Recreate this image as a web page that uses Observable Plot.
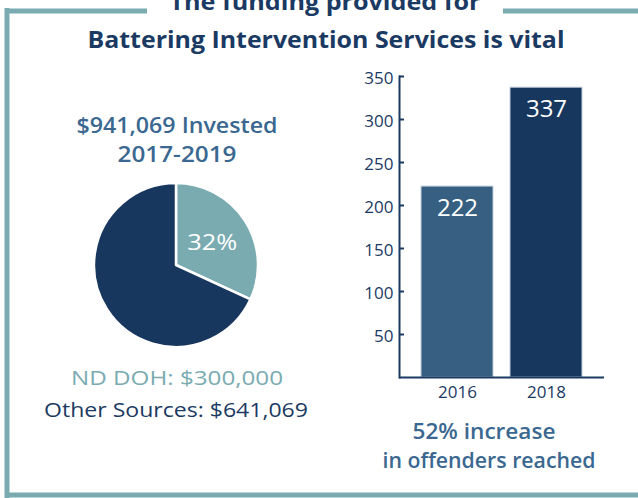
<!DOCTYPE html>
<html>
<head>
<meta charset="utf-8">
<script src="https://cdn.jsdelivr.net/npm/d3@7"></script>
<script src="https://cdn.jsdelivr.net/npm/@observablehq/plot@0.6"></script>
<style>
  html, body { margin: 0; padding: 0; background: #fff; }
  #root { position: relative; width: 638px; height: 498px; overflow: hidden; font-family: "Open Sans", Lato, sans-serif; }
  #overlay, #pie, #bars { position: absolute; }
  #overlay { left: 0; top: 0; }
  #pie { left: 76px; top: 165px; }
  #bars { left: 340px; top: 60px; }
</style>
</head>
<body>
<div id="root">
  <svg id="overlay" width="638" height="498"></svg>
  <div id="pie"></div>
  <div id="bars"></div>
</div>
<script>
// ---- data ----
const titleLines = ["The funding provided for", "Battering Intervention Services is vital"];
const pieCategories = ["ND DOH", "Other Sources"];
const pieValues = [300000, 641069];
const pieColors = ["#79abb1", "#17375f"];
const pieLabel = "32%";
const investedLines = ["$941,069 Invested", "2017-2019"];
const legendLines = ["ND DOH: $300,000", "Other Sources: $641,069"];
const barYears = ["2016", "2018"];
const barValues = [222, 337];
const barColors = ["#365f81", "#17375f"];
const yTicks = [50, 100, 150, 200, 250, 300, 350];
const noteLines = ["52% increase", "in offenders reached"];

const navy = "#1b3a63";
const steel = "#3a6890";
const teal = "#79abb1";
const FONT = "'Open Sans', Lato, sans-serif";

// ---- frame + text overlay ----
const ov = d3.select("#overlay");
const frameColor = "#7aabb1";
ov.append("line").attr("x1", 7).attr("x2", 7).attr("y1", 8).attr("y2", 498).attr("stroke", frameColor).attr("stroke-width", 5);
ov.append("line").attr("x1", 5).attr("x2", 147).attr("y1", 11).attr("y2", 11).attr("stroke", frameColor).attr("stroke-width", 5);
ov.append("line").attr("x1", 503).attr("x2", 638).attr("y1", 11).attr("y2", 11).attr("stroke", frameColor).attr("stroke-width", 5);
ov.append("line").attr("x1", 5).attr("x2", 638).attr("y1", 495).attr("y2", 495).attr("stroke", frameColor).attr("stroke-width", 5);

function txt(s, x, y, size, weight, color, len) {
  const t = ov.append("text").attr("x", x).attr("y", y).attr("text-anchor", "middle")
    .attr("font-size", size).attr("font-weight", weight).attr("fill", color)
    .attr("font-family", FONT).text(s);
  if (len) t.attr("textLength", len).attr("lengthAdjust", "spacingAndGlyphs");
}
txt(titleLines[0], 325, 10, 24, 700, navy, 311);
txt(titleLines[1], 326, 48, 24, 700, navy, 477);
txt(investedLines[0], 177, 133, 21, 600, steel, 201);
txt(investedLines[1], 177, 162, 21, 600, steel, 119);
txt(legendLines[0], 177, 385, 20, 400, teal, 212);
txt(legendLines[1], 176, 417, 20, 400, navy, 264);
txt(noteLines[0], 484, 439, 21, 600, steel, 143);
txt(noteLines[1], 489, 468, 21, 600, steel, 213);

// ---- pie (d3 layout) ----
const pieData = pieCategories.map((c, i) => ({category: c, value: pieValues[i], color: pieColors[i]}));
const R = 82, cx = 100, cy = 100;
const pieSvg = d3.select("#pie").append("svg").attr("width", 200).attr("height", 200);
const arcs = d3.pie().sort(null).value(d => d.value)(pieData);
const arcGen = d3.arc().innerRadius(0).outerRadius(R);
const g = pieSvg.append("g").attr("transform", `translate(${cx},${cy})`);
g.selectAll("path").data(arcs).join("path")
  .attr("d", arcGen).attr("fill", d => d.data.color)
  .attr("stroke", "#fff").attr("stroke-width", 2.5).attr("stroke-linejoin", "round");
const lc = d3.arc().innerRadius(0).outerRadius(R * 1.05).centroid(arcs[0]);
g.append("text").attr("x", lc[0]).attr("y", lc[1] + 8).attr("text-anchor", "middle")
  .attr("font-size", 22).attr("fill", "#fff").attr("font-family", FONT)
  .attr("textLength", 50).attr("lengthAdjust", "spacingAndGlyphs").text(pieLabel);

// ---- bars (Plot) ----
const barData = barYears.map((y, i) => ({year: y, value: barValues[i]}));
const chart = Plot.plot({
  width: 280,
  height: 350,
  marginLeft: 59,
  marginTop: 16,
  marginBottom: 33,
  marginRight: 16,
  style: {fontFamily: FONT, color: navy, background: "transparent"},
  x: {domain: barYears, paddingInner: 0.19, paddingOuter: 0.24, label: null},
  y: {domain: [0, 350], label: null},
  color: {domain: barYears, range: barColors},
  marks: [
    Plot.barY(barData, {x: "year", y: "value", fill: "year", stroke: "#c3cfdb", strokeWidth: 1}),
    Plot.text(barData, {x: "year", y: "value", text: d => String(d.value), dy: 22, fill: "#fff", fontSize: 24, lineAnchor: "middle"}),
    Plot.axisY(yTicks, {tickSize: -5, text: null, stroke: navy, strokeWidth: 2}),
    Plot.axisY(yTicks, {tickSize: 0, tickPadding: 6, fontSize: 17, fill: navy, dy: 2}),
    Plot.axisX({tickSize: 0, tickPadding: 8, fontSize: 17, fill: navy}),
    Plot.frame({anchor: "left", stroke: navy, strokeWidth: 2}),
    Plot.ruleY([0], {stroke: navy, strokeWidth: 2})
  ]
});
document.getElementById("bars").appendChild(chart);
</script>
</body>
</html>
